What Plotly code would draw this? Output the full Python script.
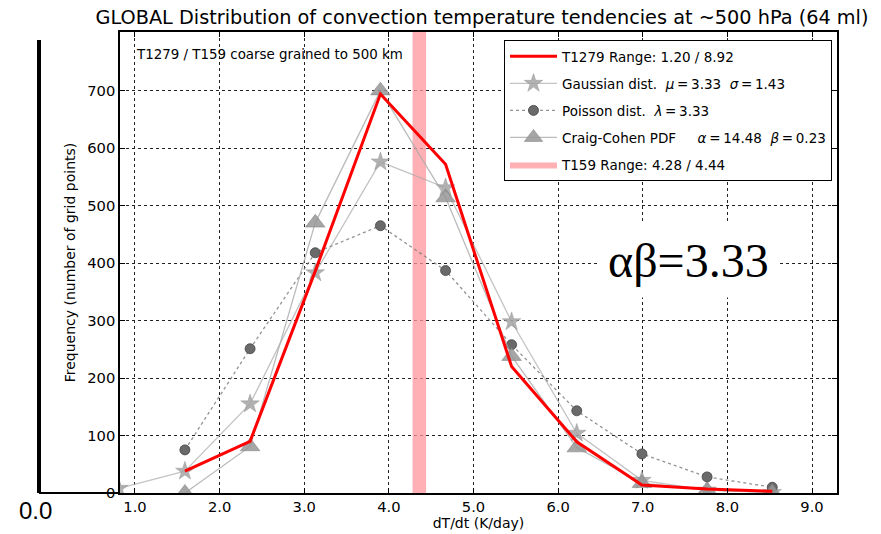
import plotly.graph_objects as go

# ---- data ----
bin_centers = [0.81, 1.59, 2.36, 3.13, 3.90, 4.67, 5.45, 6.22, 6.99, 7.76, 8.53]
t1279 = [38, 90, 386, 694, 572, 220, 89, 14, 7, 3]
gaussian = [8, 38, 155, 383, 576, 531, 298, 104, 22, 5, 1]
poisson = [75, 251, 418, 465, 387, 258, 143, 68, 28, 10]
craig_cohen = [0, 81, 470, 700, 514, 238, 79, 17, 5, 1]
t159_range = [4.28, 4.44]
y_top = 802
x_ticks = [1.0, 2.0, 3.0, 4.0, 5.0, 6.0, 7.0, 8.0, 9.0]
y_ticks = [0, 100, 200, 300, 400, 500, 600, 700]

FONT = "DejaVu Sans"
NB = "\u00a0"
TH = "\u2009"

fig = go.Figure()

# T159 band
fig.add_trace(go.Scatter(
    x=[t159_range[0], t159_range[1], t159_range[1], t159_range[0], t159_range[0]],
    y=[0, 0, y_top, y_top, 0],
    fill="toself", fillcolor="rgba(255,150,155,0.75)", line=dict(width=0),
    mode="lines", name="T159 Range: 4.28 / 4.44", legendrank=5,
    legendgroup="e", hoverinfo="skip"))

fig.add_trace(go.Scatter(
    x=bin_centers, y=gaussian, mode="lines+markers",
    line=dict(color="rgba(170,170,170,0.7)", width=1.3),
    marker=dict(symbol="star", size=14, color="rgba(165,165,165,0.85)",
                line=dict(color="rgba(140,140,140,0.8)", width=0.5)),
    name=f"Gaussian dist.{NB}{NB}<i>μ</i>{TH}={TH}3.33{NB}{NB}<i>σ</i>{TH}={TH}1.43",
    legendrank=2, legendgroup="b"))

fig.add_trace(go.Scatter(
    x=bin_centers[1:], y=poisson, mode="lines+markers",
    line=dict(color="rgba(120,120,120,0.8)", width=1.3, dash="dot"),
    marker=dict(symbol="circle", size=10, color="#6a6a6a",
                line=dict(color="#444", width=0.8)),
    name=f"Poisson dist.{NB}{NB}<i>λ</i>{TH}={TH}3.33",
    legendrank=3, legendgroup="c"))

fig.add_trace(go.Scatter(
    x=bin_centers[1:], y=craig_cohen, mode="lines+markers",
    line=dict(color="rgba(170,170,170,0.8)", width=1.3),
    marker=dict(symbol="triangle-up", size=17, color="rgba(150,150,150,0.85)",
                line=dict(color="rgba(120,120,120,0.8)", width=0.6)),
    name=f"Craig-Cohen PDF{NB}{NB}{NB}{NB}{NB}<i>α</i>{TH}={TH}14.48{NB}{NB}<i>β</i>{TH}={TH}0.23",
    legendrank=4, legendgroup="d"))

fig.add_trace(go.Scatter(
    x=bin_centers[1:], y=t1279, mode="lines",
    line=dict(color="#ff0000", width=3),
    name="T1279 Range: 1.20 / 8.92", legendrank=1, legendgroup="a"))

fig.update_layout(
    width=881, height=534,
    margin=dict(l=120, r=44, t=32, b=41, autoexpand=False),
    paper_bgcolor="white", plot_bgcolor="white",
    font=dict(family=FONT, size=14, color="black"),
    title=dict(text="GLOBAL Distribution of convection temperature tendencies at ~500 hPa (64 ml)",
               x=482/881, xanchor="center", y=1-17/534, yanchor="middle",
               font=dict(family=FONT, size=19.3)),
    showlegend=True,
    legend=dict(x=(504-120)/717, y=(493-40)/461, xanchor="left", yanchor="top",
                bgcolor="white", bordercolor="black", borderwidth=1,
                font=dict(family=FONT, size=13.5), tracegroupgap=6.5,
                itemwidth=47),
)

axis_common = dict(showline=True, linecolor="black", linewidth=1.5, mirror="ticks",
                   ticks="inside", ticklen=5, tickcolor="black",
                   showgrid=True, gridcolor="#222", griddash="dot", gridwidth=1,
                   zeroline=False, automargin=False,
                   tickfont=dict(family=FONT, size=14.7))
fig.update_xaxes(range=[0.823, 9.295], tickvals=x_ticks,
                 ticktext=[f"{v:.1f}" for v in x_ticks],
                 ticklabelstandoff=0,
                 title=dict(text="dT/dt (K/day)", standoff=3, font=dict(size=14)),
                 **axis_common)
fig.update_yaxes(range=[0, y_top], tickvals=y_ticks,
                 title=dict(text="Frequency (number of grid points)", standoff=8, font=dict(size=14)),
                 **axis_common)

fig.add_annotation(text="T1279 / T159 coarse grained to 500 km",
                   xref="paper", yref="paper", x=(134-120)/717, y=(493-54)/461,
                   xanchor="left", yanchor="middle", showarrow=False,
                   font=dict(family=FONT, size=13.4))

fig.add_annotation(text="αβ=3.33", xref="paper", yref="paper",
                   x=(688-120)/717, y=(493-260)/461, xanchor="center", yanchor="middle",
                   showarrow=False, bgcolor="white", borderpad=10,
                   font=dict(family="Liberation Serif", size=48, color="black"))

# left decoration from the source image
fig.add_shape(type="line", xref="paper", yref="paper",
              x0=(39-120)/717, x1=(39-120)/717, y0=0, y1=(493-40)/461,
              line=dict(color="black", width=4))
fig.add_shape(type="line", xref="paper", yref="paper",
              x0=(39-120)/717, x1=0, y0=0, y1=0,
              line=dict(color="black", width=2))
fig.add_annotation(text="0.0", xref="paper", yref="paper",
                   x=(35-120)/717, y=(493-510)/461, xanchor="center", yanchor="middle",
                   showarrow=False, font=dict(family="Liberation Sans", size=24))

fig.write_html("out.html", config={"displayModeBar": False},
               post_script="document.body.style.margin='0px';")
